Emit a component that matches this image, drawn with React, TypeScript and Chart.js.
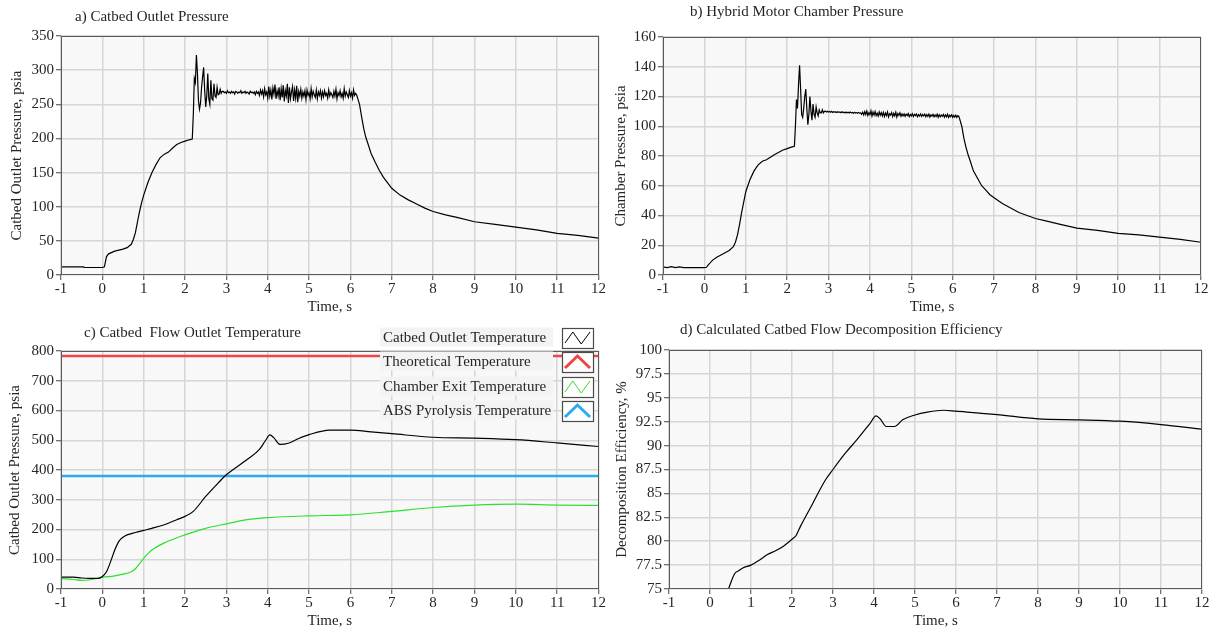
import React, { useEffect, useRef } from "react";
import { Chart, registerables } from "chart.js";

Chart.register(...registerables);

const FONT = "'Liberation Serif', 'Times New Roman', serif";
const PLOT_BG = "#f8f8f8";
const GRID = "#d6d6d6";
const TEXT = "#262626";

// ---------------- Tick / axis labels ----------------
const TIME_TITLE = "Time, s";

// ---------------- Panel a: Catbed outlet pressure (psia) ----------------
const aStartTime = [-1, -0.45, -0.44, 0, 0.05, 0.1, 0.15, 0.3, 0.5, 0.6, 0.7, 0.75, 0.8, 0.85, 0.9, 0.95, 1.0, 1.1, 1.2, 1.3, 1.4, 1.5, 1.6, 1.7, 1.8, 1.9, 2.0, 2.1, 2.175];
const aStartPressure = [12, 12, 11, 11, 12, 27, 31, 35, 38, 40, 45, 52, 62, 78, 93, 106, 117, 135, 150, 162, 172, 177, 180, 186, 191, 194, 196, 198, 199];
// ringing after ignition, sampled every 0.025 s from 2.2 s
const aRingPressure = [235, 288, 282, 322, 295, 255, 243, 252, 275, 290, 304, 270, 246, 262, 295, 258, 250, 285, 258, 256, 280, 262, 260, 275, 264, 265, 272, 266, 269];
// steady burn, sampled every 0.025 s from 2.925 s
const aPlateauPressure = [
  269, 267, 268, 266, 270, 267, 268, 266, 269, 267, 268, 265, 269, 268, 266, 268, 267, 270, 266, 268, 267, 269, 266, 268, 267, 265, 269, 267, 268, 266, 268, 264, 269, 266, 268,
  263, 271, 265, 270, 261, 273, 264, 268, 259, 276, 262, 271, 257, 274, 265, 279, 258, 270, 262, 275, 256,
  273, 260, 278, 254, 270, 262, 280, 252, 275, 258, 268, 276, 255, 271, 259, 277, 253, 269, 262,
  272, 259, 268, 262, 270, 257, 271, 263, 267, 258, 273, 261, 269, 264, 260, 271, 258, 268, 263, 270, 259,
  268, 261, 270, 263, 266, 259, 271, 262, 267, 264, 260, 269, 262, 272, 258, 267, 263, 270, 261, 266, 259, 273, 262, 268, 264, 260, 270, 262, 267, 259, 271, 263, 266, 264,
];
const aDecayTime = [6.22, 6.27, 6.32, 6.37, 6.42, 6.5, 6.6, 6.7, 6.8, 6.9, 7.0, 7.2, 7.4, 7.6, 7.8, 8.0, 8.3, 8.6, 9.0, 9.5, 10, 10.5, 11, 11.5, 12];
const aDecayPressure = [250, 232, 215, 202, 193, 178, 165, 153, 143, 135, 127, 117, 110, 104, 98, 93, 88, 84, 78, 74, 70, 66, 61, 58, 54];

// ---------------- Panel b: Chamber pressure (psia) ----------------
const bStartTime = [-1, -0.9, -0.8, -0.7, -0.6, -0.5, 0, 0.05, 0.1, 0.2, 0.3, 0.4, 0.5, 0.6, 0.7, 0.75, 0.8, 0.85, 0.9, 0.95, 1.0, 1.1, 1.2, 1.3, 1.4, 1.5, 1.7, 1.9, 2.0, 2.1, 2.175];
const bStartPressure = [5.5, 5, 5.6, 5, 5.5, 5, 5, 5.2, 7, 10, 12, 13.5, 15, 16.5, 19, 22, 27, 34, 42, 49, 56, 64, 70, 74, 76.5, 77.5, 81, 84, 85, 86, 86.5];
const bRingPressure = [100, 118, 112, 128, 141, 125, 108, 106, 112, 120, 125, 112, 101, 108, 120, 110, 104, 115, 108, 106, 113, 109, 107, 111, 109, 109, 111, 109, 110];
const bPlateauPressure = [
  110.2, 109.6, 110.1, 109.5, 109.9, 109.4, 110, 109.3, 109.8, 109.5, 109.7, 109.2, 109.8, 109.3, 109.6, 109.1, 109.7, 109.2, 109.5, 109, 109.6, 109.1, 109.4, 108.9, 109.5, 109, 109.3, 108.8, 109.4, 108.9, 109.2, 108.7, 109.3, 108.8, 109,
  108, 109.4, 107.6, 109.8, 107.9, 110.2, 107.3, 109.1, 107.8, 110.4, 106.9, 109.5, 107.5, 109.9, 107.2, 108.8, 106.8, 109.6, 107.4, 109.2, 106.9,
  109.3, 106.6, 108.9, 107.1, 109.6, 106.3, 108.4, 107.5, 109.2, 106.5, 108.7, 107, 109.4, 106.2, 108.6, 107.3, 109, 106.7, 108.3,
  106.9, 108.3, 106.7, 108.1, 107.2, 108.5, 106.5, 107.9, 106.9, 108.4, 106.6, 108, 107.1, 108.2, 106.4, 107.8, 106.8, 108.3, 106.6, 107.9, 106.9,
  108.1, 106.4, 107.9, 106.6, 108.2, 106.2, 107.7, 106.8, 108, 106.3, 107.6, 106.5, 108.1, 106, 107.8, 106.4, 107.5, 106.7, 107.9, 106.1, 107.6, 106.3, 108, 105.9, 107.4, 106.5, 107.7, 106, 107.3, 106.2, 107.5, 105.9, 107.1, 106.6,
];
const bDecayTime = aDecayTime;
const bDecayPressure = [100, 92, 86, 81, 77, 70, 65, 60, 57, 54, 52, 48, 45, 42, 40, 38, 36, 34, 31.5, 30, 28, 27, 25.5, 24, 22];

// ---------------- Panel c: temperatures ----------------
const cCatbedTime = [-1, -0.7, -0.5, -0.3, -0.1, 0, 0.1, 0.2, 0.3, 0.4, 0.5, 0.6, 0.8, 1.0, 1.2, 1.5, 1.8, 2.0, 2.2, 2.5, 2.8, 3.0, 3.5, 3.8, 3.95, 4.05, 4.15, 4.3, 4.5, 4.75, 5.0, 5.5, 6.0, 6.5, 7, 8, 9, 10, 11, 12];
const cCatbedTemp = [40, 40, 37, 36, 36, 42, 58, 92, 131, 160, 174, 182, 190, 197, 204, 216, 233, 244, 261, 311, 356, 384, 435, 469, 500, 518, 508, 486, 490, 506, 519, 534, 534, 528, 522, 510, 507, 502, 491, 479];
const cChamberTime = [-1, -0.7, -0.5, -0.3, 0, 0.3, 0.5, 0.7, 0.8, 0.9, 1.0, 1.2, 1.5, 2.0, 2.5, 3.0, 3.5, 4.0, 5.0, 6.0, 7, 8, 9, 10, 11, 12];
const cChamberTemp = [35, 32, 29, 31, 39, 44, 50, 58, 68, 85, 103, 131, 155, 182, 204, 219, 233, 240, 246, 249, 261, 274, 282, 285, 282, 281];
const cConstTime = [-1, 12];
const cTheoreticalTemp = [783, 783];
const cPyrolysisTemp = [380, 380];

// ---------------- Panel d: decomposition efficiency (%) ----------------
const dTime = [0.45, 0.6, 0.7, 0.8, 1.0, 1.2, 1.4, 1.6, 1.8, 2.0, 2.1, 2.2, 2.5, 2.8, 3.0, 3.3, 3.6, 3.9, 4.05, 4.15, 4.3, 4.5, 4.7, 5.0, 5.3, 5.7, 6.0, 7, 8, 9, 10, 11, 12];
const dEfficiency = [75, 76.6, 76.9, 77.2, 77.5, 78.0, 78.6, 79.0, 79.5, 80.2, 80.6, 81.5, 83.9, 86.3, 87.5, 89.2, 90.7, 92.3, 93.1, 92.8, 92.0, 92.0, 92.7, 93.2, 93.5, 93.7, 93.6, 93.25, 92.8, 92.7, 92.55, 92.2, 91.7];

// ---------------- helpers ----------------
type Pt = { x: number; y: number };
const pairs = (t: number[], v: number[]): Pt[] => v.map((y, i) => ({ x: t[i], y }));
const sampled = (t0: number, dt: number, v: number[]): Pt[] => v.map((y, i) => ({ x: +(t0 + i * dt).toFixed(4), y }));

const aSeries: Pt[] = [
  ...pairs(aStartTime, aStartPressure),
  ...sampled(2.2, 0.025, aRingPressure),
  ...sampled(2.925, 0.025, aPlateauPressure),
  ...pairs(aDecayTime, aDecayPressure),
];
const bSeries: Pt[] = [
  ...pairs(bStartTime, bStartPressure),
  ...sampled(2.2, 0.025, bRingPressure),
  ...sampled(2.925, 0.025, bPlateauPressure),
  ...pairs(bDecayTime, bDecayPressure),
];

type Series = { label: string; color: string; width: number; pts: Pt[]; icon: "zig" | "peak"; smooth: boolean };

type Spec = {
  left: number; top: number; width: number; height: number;
  area: { l: number; t: number; r: number; b: number };
  yMin: number; yMax: number; yStep: number;
  yTitle: string; yTitleShift: number; xTitleShift: number;
  title: string; titleX: number; titleY: number;
  series: Series[];
  legend: boolean;
};

const specs: Spec[] = [
  {
    left: 0, top: 0, width: 608, height: 315,
    area: { l: 61, t: 36, r: 600, b: 275 },
    yMin: 0, yMax: 350, yStep: 50,
    yTitle: "Catbed Outlet Pressure, psia", yTitleShift: 10, xTitleShift: 0,
    title: "a) Catbed Outlet Pressure", titleX: 75, titleY: 17,
    series: [{ label: "Catbed Outlet Pressure", color: "#000", width: 1.2, pts: aSeries, icon: "zig", smooth: false }],
    legend: false,
  },
  {
    left: 608, top: 0, width: 608, height: 315,
    area: { l: 663, t: 37, r: 1201, b: 275 },
    yMin: 0, yMax: 160, yStep: 20,
    yTitle: "Chamber Pressure, psia", yTitleShift: 6, xTitleShift: 0,
    title: "b) Hybrid Motor Chamber Pressure", titleX: 690, titleY: 12,
    series: [{ label: "Chamber Pressure", color: "#000", width: 1.2, pts: bSeries, icon: "zig", smooth: false }],
    legend: false,
  },
  {
    left: 0, top: 315, width: 608, height: 315,
    area: { l: 61, t: 351, r: 600, b: 589 },
    yMin: 0, yMax: 800, yStep: 100,
    yTitle: "Catbed Outlet Pressure, psia", yTitleShift: 8, xTitleShift: 1,
    title: "c) Catbed  Flow Outlet Temperature", titleX: 84, titleY: 333,
    series: [
      { label: "Catbed Outlet Temperature", color: "#000000", width: 1.2, pts: pairs(cCatbedTime, cCatbedTemp), icon: "zig", smooth: true },
      { label: "Theoretical Temperature", color: "#f04545", width: 2.5, pts: pairs(cConstTime, cTheoreticalTemp), icon: "peak", smooth: false },
      { label: "Chamber Exit Temperature", color: "#2ee02e", width: 1.2, pts: pairs(cChamberTime, cChamberTemp), icon: "zig", smooth: true },
      { label: "ABS Pyrolysis Temperature", color: "#2fa9ee", width: 2.5, pts: pairs(cConstTime, cPyrolysisTemp), icon: "peak", smooth: false },
    ],
    legend: true,
  },
  {
    left: 608, top: 315, width: 608, height: 315,
    area: { l: 669, t: 350, r: 1202, b: 589 },
    yMin: 75, yMax: 100, yStep: 2.5,
    yTitle: "Decomposition Efficiency, %", yTitleShift: 7, xTitleShift: 1,
    title: "d) Calculated Catbed Flow Decomposition Efficiency", titleX: 680, titleY: 330,
    series: [{ label: "Decomposition Efficiency", color: "#000", width: 1.2, pts: pairs(dTime, dEfficiency), icon: "zig", smooth: true }],
    legend: false,
  },
];

function makeDeco(spec: Spec) {
  return {
    id: "panelDeco",
    beforeDraw(chart: any) {
      const { ctx, chartArea: a } = chart;
      ctx.save();
      ctx.fillStyle = PLOT_BG;
      ctx.fillRect(a.left, a.top, a.right - a.left, a.bottom - a.top);
      ctx.restore();
    },
    afterDatasetsDraw(chart: any) {
      const { ctx, chartArea: a } = chart;
      ctx.save();
      ctx.strokeStyle = "#5a5a5a";
      ctx.lineWidth = 1;
      ctx.strokeRect(Math.round(a.left) + 0.5, Math.round(a.top) + 0.5, Math.round(a.right - a.left) - 1, Math.round(a.bottom - a.top) - 1);
      ctx.restore();
    },
    afterDraw(chart: any) {
      const { ctx } = chart;
      ctx.save();
      ctx.font = `15px ${FONT}`;
      ctx.fillStyle = TEXT;
      ctx.textBaseline = "middle";
      ctx.textAlign = "left";
      ctx.fillText(spec.title, spec.titleX - spec.left, spec.titleY - spec.top);
      if (spec.legend) {
        const rowY = [337, 361, 386, 410];
        spec.series.forEach((s, i) => {
          const cy = rowY[i] - spec.top;
          ctx.fillStyle = "#f3f3f3";
          ctx.fillRect(380 - spec.left, cy - 9.5, 173, 19);
          ctx.fillStyle = TEXT;
          ctx.fillText(s.label, 383 - spec.left, cy + 1);
          const bx = 562 - spec.left, by = cy - 9, bw = 31, bh = 20;
          ctx.fillStyle = "#ffffff";
          ctx.fillRect(bx, by, bw, bh);
          ctx.strokeStyle = "#4a4a4a";
          ctx.lineWidth = 1.2;
          ctx.strokeRect(bx + 0.5, by + 0.5, bw, bh);
          ctx.strokeStyle = s.color;
          ctx.lineWidth = s.icon === "peak" ? 3 : 1;
          ctx.beginPath();
          if (s.icon === "peak") {
            ctx.moveTo(bx + 3, by + bh - 4);
            ctx.lineTo(bx + bw / 2, by + 4);
            ctx.lineTo(bx + bw - 3, by + bh - 4);
          } else {
            ctx.moveTo(bx + 3, by + bh - 5);
            ctx.lineTo(bx + bw * 0.35, by + 4);
            ctx.lineTo(bx + bw * 0.62, by + bh - 4);
            ctx.lineTo(bx + bw - 3, by + 4);
          }
          ctx.stroke();
        });
      }
      ctx.restore();
    },
  };
}

function Panel({ spec }: { spec: Spec }) {
  const ref = useRef<HTMLCanvasElement>(null);
  useEffect(() => {
    const canvas = ref.current!;
    const padTop = spec.area.t - spec.top;
    const padRight = spec.left + spec.width - spec.area.r;
    const yWidth = spec.area.l - spec.left;
    const xHeight = spec.top + spec.height - spec.area.b;
    const tickFont = { family: FONT, size: 15, lineHeight: 1 };
    const chart = new Chart(canvas, {
      type: "line",
      data: {
        datasets: spec.series.map((s) => ({
          label: s.label,
          data: s.pts,
          borderColor: s.color,
          backgroundColor: s.color,
          borderWidth: s.width,
          pointRadius: 0,
          fill: false,
          cubicInterpolationMode: s.smooth ? "monotone" : "default",
          tension: 0,
        })),
      },
      options: {
        animation: false,
        responsive: false,
        devicePixelRatio: 1,
        events: [],
        layout: { padding: { left: 0, top: padTop, right: padRight, bottom: 0 } },
        plugins: { legend: { display: false }, tooltip: { enabled: false }, title: { display: false } },
        scales: {
          x: {
            type: "linear",
            min: -1,
            max: 12,
            border: { display: false },
            grid: { color: GRID, lineWidth: 1.5, tickLength: 5, tickColor: "#444", tickWidth: 1 },
            ticks: { stepSize: 1, font: tickFont, color: TEXT, padding: 2, maxRotation: 0, autoSkip: false },
            title: { display: true, text: TIME_TITLE, font: { family: FONT, size: 15, lineHeight: 1 }, color: TEXT, padding: { top: 0, bottom: spec.xTitleShift } },
            afterFit: (scale: any) => { scale.height = xHeight; },
          },
          y: {
            type: "linear",
            min: spec.yMin,
            max: spec.yMax,
            border: { display: false },
            grid: { color: GRID, lineWidth: 1.5, tickLength: 5, tickColor: "#444", tickWidth: 1 },
            ticks: { stepSize: spec.yStep, font: tickFont, color: TEXT, padding: 2, autoSkip: false },
            title: { display: true, text: spec.yTitle, font: { family: FONT, size: 15, lineHeight: 1 }, color: TEXT, padding: { top: spec.yTitleShift, bottom: 0 } },
            afterFit: (scale: any) => { scale.width = yWidth; },
          },
        },
      },
      plugins: [makeDeco(spec)],
    } as any);
    return () => chart.destroy();
  }, [spec]);
  return (
    <canvas
      ref={ref}
      width={spec.width}
      height={spec.height}
      style={{ position: "absolute", left: spec.left, top: spec.top, width: spec.width, height: spec.height }}
    />
  );
}

export default function App() {
  return (
    <div style={{ position: "absolute", left: 0, top: 0, width: 1216, height: 630, background: "#fff" }}>
      {specs.map((s, i) => (
        <Panel key={i} spec={s} />
      ))}
    </div>
  );
}
